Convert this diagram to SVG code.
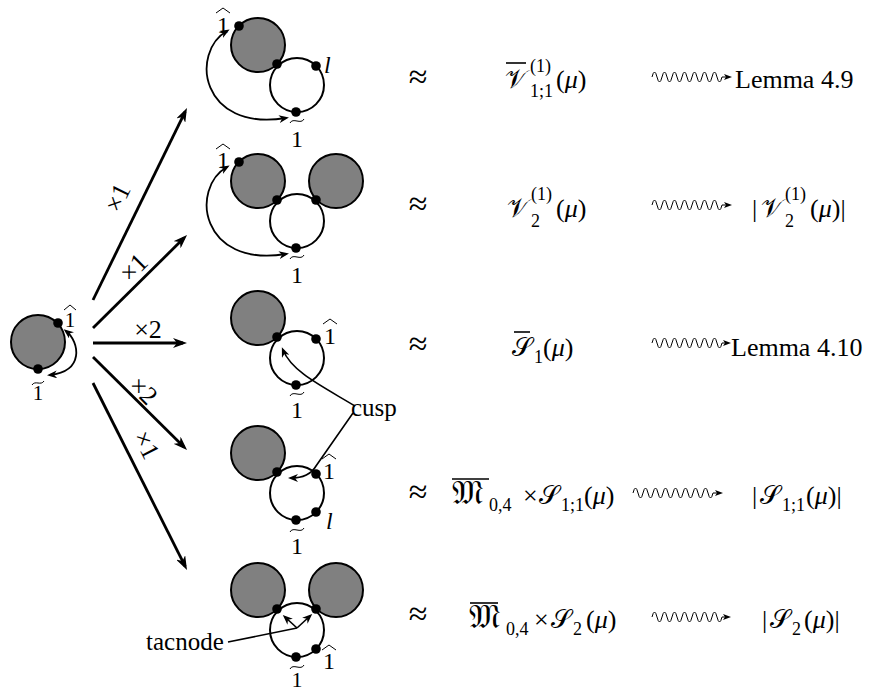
<svg xmlns="http://www.w3.org/2000/svg" width="872" height="694" viewBox="0 0 872 694" font-family="'Liberation Serif', 'DejaVu Serif', serif">
<style>
text{font-family:'Liberation Serif','DejaVu Serif',serif;fill:#000}
.g{fill:#808080;stroke:#000;stroke-width:2}
.w{fill:#fff;stroke:#000;stroke-width:2}
.d{fill:#000}
.ca{fill:none;stroke:#000;stroke-width:1.8;marker-start:url(#sh);marker-end:url(#sh)}
.one{font-family:'Liberation Serif',serif;font-size:24px;text-anchor:middle}
.acc{fill:none;stroke:#000;stroke-width:1}
.main{stroke:#000;stroke-width:2.8;marker-end:url(#ah)}
.lab{font-family:'Liberation Serif',serif;font-size:26px;text-anchor:middle}
.big{font-family:'Liberation Serif',serif;font-size:26px}
.apx{font-family:'Liberation Serif',serif;font-size:34px;text-anchor:middle}
.sm{font-family:'Liberation Serif',serif;font-size:18px}
.it{font-family:'Liberation Serif',serif;font-style:italic}
.ov{stroke:#000;stroke-width:1.6}
.wave{fill:none;stroke:#000;stroke-width:1;marker-end:url(#th)}
.thin{fill:none;stroke:#000;stroke-width:1.6}
</style>
<defs>
<marker id="ah" viewBox="0 0 14 10" refX="10" refY="5" markerWidth="14" markerHeight="10" markerUnits="userSpaceOnUse" orient="auto"><path d="M0,0 L14,5 L0,10 L4,5 z"/></marker>
<marker id="sh" viewBox="0 0 10 8" refX="7" refY="4" markerWidth="10" markerHeight="8" markerUnits="userSpaceOnUse" orient="auto-start-reverse"><path d="M0,0 L10,4 L0,8 L3,4 z"/></marker>
<marker id="th" viewBox="0 0 8 6" refX="2" refY="3" markerWidth="8" markerHeight="6" markerUnits="userSpaceOnUse" orient="auto"><path d="M0,0 L8,3 L0,6 L2,3 z"/></marker>
</defs>

<g id="n0">
<circle cx="38" cy="342" r="27" class="g"/>
<circle cx="58" cy="323" r="4.8" class="d"/>
<circle cx="38" cy="369" r="4.8" class="d"/>
<path d="M66,331 C80,342 84,372 50,375" class="ca"/>
<text x="70" y="327" class="one" style="font-size:21px">1</text>
<path d="M64,310 L70,305 L76,310" class="acc"/>
<text x="38" y="400" class="one" style="font-size:21px">1</text>
<path d="M32,385 C35,380 41,386 44,381" class="acc"/>
</g>

<g id="n1">
<circle cx="258" cy="45" r="27" class="g"/>
<circle cx="297" cy="85" r="27" class="w"/>
<circle cx="239" cy="26" r="4.8" class="d"/>
<circle cx="277" cy="64" r="4.8" class="d"/>
<circle cx="316" cy="66" r="4.8" class="d"/>
<circle cx="296" cy="112" r="4.8" class="d"/>
<path d="M227,31 C190,52 200,132 286,118" class="ca"/>
<text x="223" y="33" class="one">1</text>
<path d="M216,13 L223,8 L230,13" class="acc"/>
<text x="297" y="147" class="one">1</text>
<path d="M290,123 C293,117 301,125 304,119" class="acc"/>
<text x="324" y="73" class="it" style="font-size:24px">l</text>
</g>

<g id="n2">
<circle cx="258" cy="181" r="27" class="g"/>
<circle cx="336" cy="181" r="27" class="g"/>
<circle cx="297" cy="221" r="27" class="w"/>
<circle cx="239" cy="162" r="4.8" class="d"/>
<circle cx="277" cy="200" r="4.8" class="d"/>
<circle cx="316" cy="200" r="4.8" class="d"/>
<circle cx="296" cy="248" r="4.8" class="d"/>
<path d="M227,167 C190,188 200,268 286,254" class="ca"/>
<text x="223" y="168" class="one">1</text>
<path d="M216,149 L223,144 L230,149" class="acc"/>
<text x="297" y="283" class="one">1</text>
<path d="M290,259 C293,253 301,261 304,255" class="acc"/>
</g>

<g id="n3">
<circle cx="258" cy="318" r="27" class="g"/>
<circle cx="297" cy="358" r="27" class="w"/>
<circle cx="277" cy="337" r="4.8" class="d"/>
<circle cx="316" cy="339" r="4.8" class="d"/>
<circle cx="296" cy="385" r="4.8" class="d"/>
<text x="330" y="344" class="one">1</text>
<path d="M323,324 L330,319 L337,324" class="acc"/>
<text x="297" y="418" class="one">1</text>
<path d="M290,396 C293,390 301,398 304,392" class="acc"/>
</g>

<g id="n4">
<circle cx="258" cy="453" r="27" class="g"/>
<circle cx="297" cy="493" r="27" class="w"/>
<circle cx="277" cy="472" r="4.8" class="d"/>
<circle cx="316" cy="474" r="4.8" class="d"/>
<circle cx="316" cy="512" r="4.8" class="d"/>
<circle cx="296" cy="520" r="4.8" class="d"/>
<text x="329" y="479" class="one">1</text>
<path d="M322,459 L329,454 L336,459" class="acc"/>
<text x="326" y="529" class="it" style="font-size:24px">l</text>
<text x="297" y="554" class="one">1</text>
<path d="M290,532 C293,526 301,534 304,528" class="acc"/>
</g>

<g id="n5">
<circle cx="258" cy="590" r="27" class="g"/>
<circle cx="336" cy="590" r="27" class="g"/>
<circle cx="297" cy="630" r="27" class="w"/>
<circle cx="277" cy="609" r="4.8" class="d"/>
<circle cx="316" cy="609" r="4.8" class="d"/>
<circle cx="316" cy="649" r="4.8" class="d"/>
<circle cx="296" cy="657" r="4.8" class="d"/>
<line x1="297" y1="628" x2="285" y2="617" class="thin" marker-end="url(#sh)"/>
<line x1="297" y1="628" x2="310" y2="616" class="thin" marker-end="url(#sh)"/>
<text x="329" y="669" class="one">1</text>
<path d="M322,650 L329,645 L336,650" class="acc"/>
<text x="297" y="687" class="one" style="font-size:22px">1</text>
<path d="M290,669 C293,663 301,671 304,665" class="acc"/>
</g>

<g id="cusp">
<text x="351" y="416" class="big" style="font-size:25px">cusp</text>
<path d="M355,406 C322,386 292,372 283,350" class="thin" marker-end="url(#sh)"/>
<path d="M353,413 L316,466 Q309,478 291,478" class="thin" marker-end="url(#sh)"/>
</g>

<g id="tacnode">
<text x="146" y="650" class="big" style="font-size:25px">tacnode</text>
<line x1="228" y1="642" x2="297" y2="628" class="thin"/>
</g>

<g id="connectors">
<line x1="93" y1="300" x2="185.2" y2="111.6" class="main"/>
<line x1="93" y1="328" x2="184.2" y2="237.8" class="main"/>
<line x1="93" y1="343" x2="183" y2="343" class="main"/>
<line x1="93" y1="357" x2="184.2" y2="447.2" class="main"/>
<line x1="93" y1="383" x2="185.2" y2="566.4" class="main"/>
<text class="lab" transform="translate(118,198) rotate(-64)" y="8">×1</text>
<text class="lab" transform="translate(134,268) rotate(-45)" y="8">×1</text>
<text class="lab" transform="translate(148,330)" y="8">×2</text>
<text class="lab" transform="translate(143,391) rotate(45)" y="8">×2</text>
<text class="lab" transform="translate(146,445) rotate(63)" y="8">×1</text>
</g>

<g id="row1">
<text x="418" y="88" class="apx">≈</text>
<line x1="506" y1="63" x2="526" y2="63" class="ov"/>
<text x="505" y="88" class="big">𝒱</text>
<text x="530" y="72" class="sm">(1)</text>
<text x="530" y="97" class="sm">1;1</text>
<text x="556" y="88" class="big">(<tspan class="it">μ</tspan>)</text>
<path d="M652,77 q2.5,-10 5,0 t5,0 t5,0 t5,0 t5,0 t5,0 t5,0 t5,0 t5,0 t5,0 t5,0 t5,0 t5,0 t5,0 h4" class="wave"/>
<text x="735" y="88" class="big">Lemma 4.9</text>
</g>

<g id="row2">
<text x="418" y="215" class="apx">≈</text>
<text x="507" y="217" class="big">𝒱</text>
<text x="531" y="200" class="sm">(1)</text>
<text x="531" y="227" class="sm">2</text>
<text x="556" y="217" class="big">(<tspan class="it">μ</tspan>)</text>
<path d="M652,205 q2.5,-10 5,0 t5,0 t5,0 t5,0 t5,0 t5,0 t5,0 t5,0 t5,0 t5,0 t5,0 t5,0 t5,0 t5,0 h4" class="wave"/>
<text x="752" y="217" class="big">|</text>
<text x="761" y="217" class="big">𝒱</text>
<text x="785" y="200" class="sm">(1)</text>
<text x="785" y="227" class="sm">2</text>
<text x="810" y="217" class="big">(<tspan class="it">μ</tspan>)|</text>
</g>

<g id="row3">
<text x="418" y="355" class="apx">≈</text>
<line x1="514" y1="332" x2="530" y2="332" class="ov"/>
<text x="512" y="356" class="big">𝒮</text>
<text x="534" y="363" class="sm">1</text>
<text x="543" y="356" class="big">(<tspan class="it">μ</tspan>)</text>
<path d="M652,343 q2.5,-10 5,0 t5,0 t5,0 t5,0 t5,0 t5,0 t5,0 t5,0 t5,0 t5,0 t5,0 t5,0 t5,0 t5,0 h3" class="wave"/>
<text x="731" y="356" class="big">Lemma 4.10</text>
</g>

<g id="row4">
<text x="418" y="503" class="apx">≈</text>
<line x1="452" y1="479" x2="489" y2="479" class="ov"/>
<text x="452" y="504" class="big" style="font-size:34px">𝔐</text>
<text x="489" y="511" class="sm">0,4</text>
<text x="523" y="504" class="big">×</text>
<text x="539" y="504" class="big">𝒮</text>
<text x="561" y="511" class="sm">1;1</text>
<text x="584" y="504" class="big">(<tspan class="it">μ</tspan>)</text>
<path d="M633,493 q2.5,-10 5,0 t5,0 t5,0 t5,0 t5,0 t5,0 t5,0 t5,0 t5,0 t5,0 t5,0 t5,0 t5,0 t5,0 t5,0 t5,0 h4" class="wave"/>
<text x="752" y="504" class="big">|</text>
<text x="760" y="504" class="big">𝒮</text>
<text x="782" y="511" class="sm">1;1</text>
<text x="806" y="504" class="big">(<tspan class="it">μ</tspan>)|</text>
</g>

<g id="row5">
<text x="418" y="625" class="apx">≈</text>
<line x1="470" y1="603" x2="498" y2="603" class="ov"/>
<text x="469" y="628" class="big" style="font-size:34px">𝔐</text>
<text x="506" y="635" class="sm">0,4</text>
<text x="534" y="628" class="big">×</text>
<text x="551" y="628" class="big">𝒮</text>
<text x="573" y="635" class="sm">2</text>
<text x="586" y="628" class="big">(<tspan class="it">μ</tspan>)</text>
<path d="M652,617 q2.5,-10 5,0 t5,0 t5,0 t5,0 t5,0 t5,0 t5,0 t5,0 t5,0 t5,0 t5,0 t5,0 t5,0 t5,0 h3" class="wave"/>
<text x="762" y="628" class="big">|</text>
<text x="770" y="628" class="big">𝒮</text>
<text x="792" y="635" class="sm">2</text>
<text x="804" y="628" class="big">(<tspan class="it">μ</tspan>)|</text>
</g>
</svg>
